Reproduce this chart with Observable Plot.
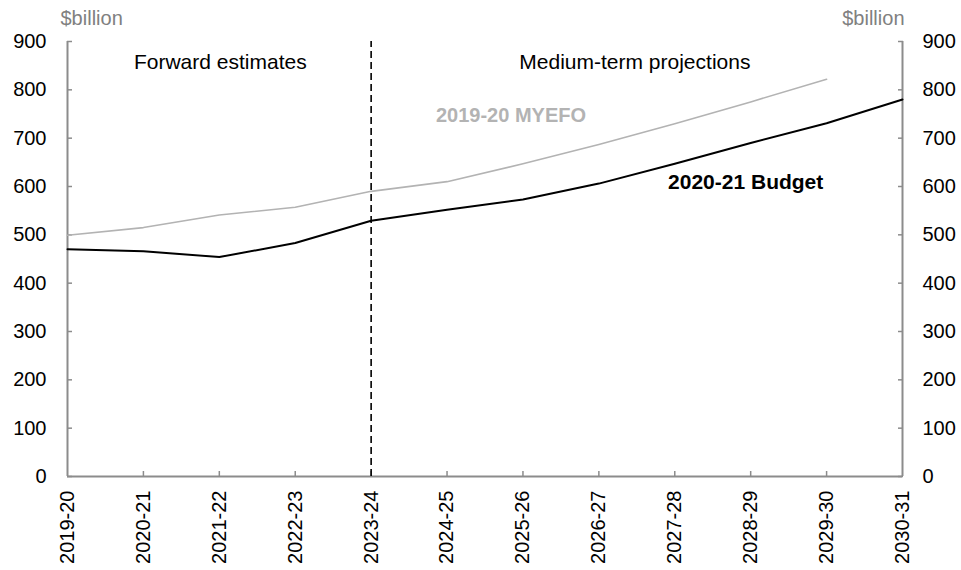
<!DOCTYPE html>
<html>
<head>
<meta charset="utf-8">
<script src="https://cdn.jsdelivr.net/npm/d3@7"></script>
<script src="https://cdn.jsdelivr.net/npm/@observablehq/plot@0.6"></script>
<style>
  html, body { margin: 0; padding: 0; background: #fff; }
</style>
</head>
<body>
<div id="chart"></div>
<script>
const years = ["2019-20","2020-21","2021-22","2022-23","2023-24","2024-25","2025-26","2026-27","2027-28","2028-29","2029-30","2030-31"];
const budget = [470, 466, 454, 483, 529, 552, 573, 606, 647, 690, 731, 780];
const myefo = [499, 515, 541, 557, 590, 610, 647, 687, 730, 775, 822, null];
const yTicks = [0, 100, 200, 300, 400, 500, 600, 700, 800, 900];

const budgetData = years.map((y, i) => ({year: y, value: budget[i]}));
const myefoData = years.map((y, i) => ({year: y, value: myefo[i]})).filter(d => d.value != null);

const axisGrey = "#8c8c8c";
const font = "'Liberation Sans', Arial, sans-serif";

const chart = Plot.plot({
  width: 961,
  height: 570,
  marginLeft: 67,
  marginRight: 59,
  marginTop: 41,
  marginBottom: 94,
  style: {fontFamily: font, fontSize: "20px", color: "#000", background: "#fff"},
  x: {type: "point", domain: years, padding: 0, round: false},
  y: {domain: [0, 900]},
  marks: [
    // tick marks inside
    Plot.axisY({anchor: "left", ticks: yTicks, tickSize: 5, dx: 5, tickFormat: () => "", stroke: axisGrey, strokeWidth: 1.5, label: null}),
    Plot.axisY({anchor: "right", ticks: yTicks, tickSize: 5, dx: -5, tickFormat: () => "", stroke: axisGrey, strokeWidth: 1.5, label: null}),
    Plot.axisX({anchor: "bottom", ticks: years.slice(1, -1), tickSize: 5, dy: -5, tickFormat: () => "", stroke: axisGrey, strokeWidth: 1.5, label: null}),
    // labels
    Plot.axisY({anchor: "left", ticks: yTicks, tickSize: 0, tickPadding: 21, label: null, fill: "#000"}),
    Plot.axisY({anchor: "right", ticks: yTicks, tickSize: 0, tickPadding: 20, label: null, fill: "#000"}),
    Plot.axisX({anchor: "bottom", ticks: years, tickSize: 0, tickPadding: 14, tickRotate: -90, label: null, fill: "#000"}),
    // axis lines
    Plot.ruleX([years[0], years[years.length - 1]], {x: d => d, y1: 0, y2: 900, stroke: axisGrey, strokeWidth: 2}),
    Plot.ruleY([0], {stroke: axisGrey, strokeWidth: 2}),
    // divider
    Plot.ruleX(["2023-24"], {x: d => d, y1: 0, y2: 900, stroke: "#000", strokeWidth: 1.6, strokeDasharray: "7,4"}),
    // series
    Plot.line(myefoData, {x: "year", y: "value", stroke: "#b3b3b3", strokeWidth: 1.6}),
    Plot.line(budgetData, {x: "year", y: "value", stroke: "#000", strokeWidth: 2}),
    // annotations
    Plot.text(["Forward estimates"], {x: () => "2021-22", y: () => 857, dx: 1, text: d => d, fill: "#000", fontSize: 21}),
    Plot.text(["Medium-term projections"], {x: () => "2026-27", y: () => 857, dx: 36, text: d => d, fill: "#000", fontSize: 21}),
    Plot.text(["2019-20 MYEFO"], {x: () => "2025-26", y: () => 746, dx: -12, text: d => d, fill: "#b3b3b3", fontWeight: "bold", fontSize: 20}),
    Plot.text(["2020-21 Budget"], {x: () => "2028-29", y: () => 609, dx: -5, text: d => d, fill: "#000", fontWeight: "bold", fontSize: 21}),
    Plot.text(["$billion"], {x: () => years[0], y: () => 900, dx: -7, dy: -23, textAnchor: "start", text: d => d, fill: "#808080", fontSize: 20}),
    Plot.text(["$billion"], {x: () => years[years.length - 1], y: () => 900, dx: 2, dy: -23, textAnchor: "end", text: d => d, fill: "#808080", fontSize: 20})
  ]
});
document.getElementById("chart").appendChild(chart);
</script>
</body>
</html>
